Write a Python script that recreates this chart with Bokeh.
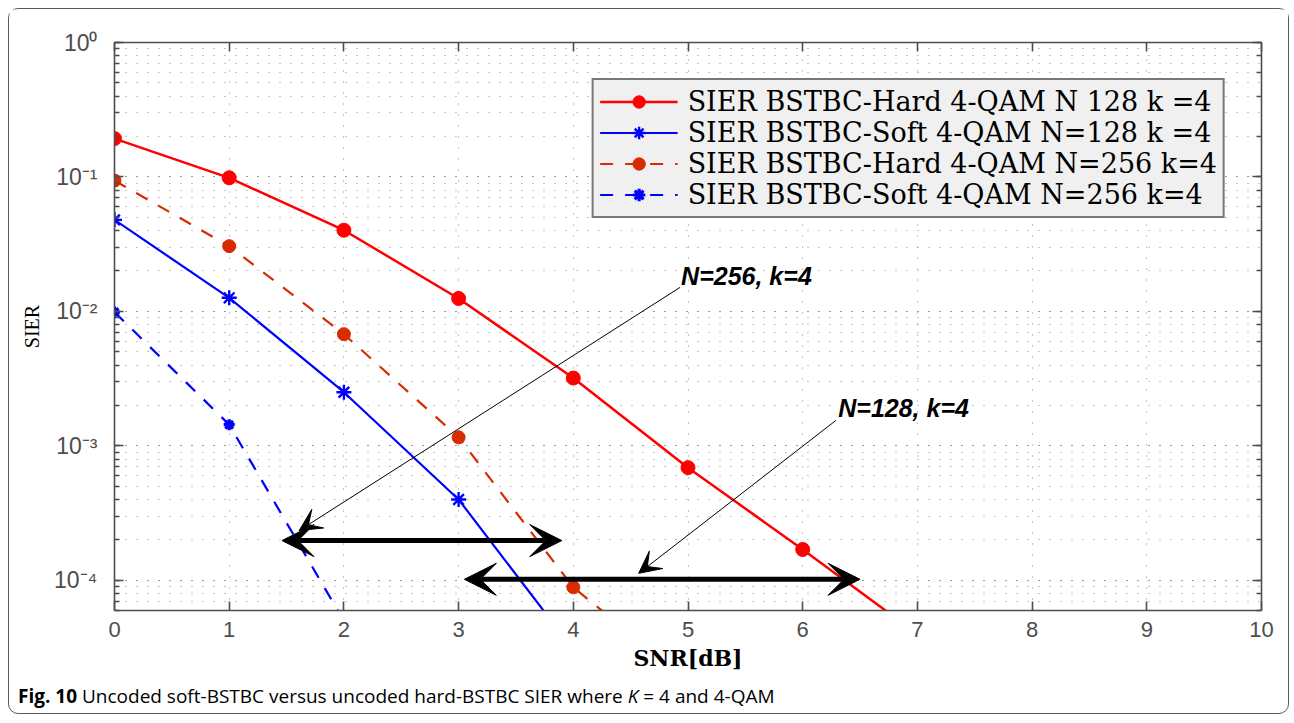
from bokeh.plotting import figure
from bokeh.layouts import column
from bokeh.models import (LogAxis, LinearAxis, Range1d, Arrow, VeeHead, Label, Div,
                          CustomJSTickFormatter, FixedTicker, Legend, LegendItem)
from bokeh.embed import file_html
from bokeh.resources import INLINE

# ---------------- data ----------------
snr_hard128 = [0, 1, 2, 3, 4, 5, 6, 7]
sier_hard128 = [0.193, 0.0986, 0.0402, 0.0125, 0.0032, 6.9e-4, 1.7e-4, 4.0e-5]

snr_soft128 = [0, 1, 2, 3, 4]
sier_soft128 = [0.048, 0.01264, 0.00251, 4.0e-4, 3.07e-5]

snr_hard256 = [0, 1, 2, 3, 4, 5]
sier_hard256 = [0.094, 0.0306, 0.00678, 0.00116, 8.9e-5, 1.8e-5]

snr_soft256 = [0, 1, 2]
sier_soft256 = [0.0099, 0.00144, 5.0e-5]

labels = ["SIER BSTBC-Hard 4-QAM N 128 k =4",
          "SIER BSTBC-Soft 4-QAM N=128 k =4",
          "SIER BSTBC-Hard 4-QAM N=256 k=4",
          "SIER BSTBC-Soft 4-QAM N=256 k=4"]

x_ticks = list(range(0, 11))

# double arrows (x start, x end, y) and pointer arrows (text, tx, ty, x0, y0, x1, y1)
span256 = (1.46, 3.90, 1.98e-4)
span128 = (3.05, 6.50, 1.02e-4)
note256 = ("N=256, k=4", 4.94, 0.0185, 4.93, 0.0151, 1.61, 2.35e-4)
note128 = ("N=128, k=4", 6.31, 1.93e-3, 6.29, 1.55e-3, 4.57, 1.13e-4)

caption_bold = "Fig. 10"
caption_pre = "Uncoded soft-BSTBC versus uncoded hard-BSTBC SIER where"
caption_var = "K"
caption_post = "= 4 and 4-QAM"

# ---------------- figure ----------------
p = figure(width=1279, height=672, y_axis_type="log",
           x_range=Range1d(0, 10), y_range=Range1d(5.98e-5, 1.0),
           output_backend="svg", toolbar_location=None,
           min_border_left=105, min_border_right=27, min_border_top=33, min_border_bottom=71,
           background_fill_color="white", border_fill_color="white", margin=(0, 0, 0, 0))
p.outline_line_color = None

AX = "#4d4d4d"
sup = CustomJSTickFormatter(code="""
const m = {"-":"\u207b","0":"\u2070","1":"\u00b9","2":"\u00b2","3":"\u00b3","4":"\u2074",
           "5":"\u2075","6":"\u2076","7":"\u2077","8":"\u2078","9":"\u2079"};
const e = Math.round(Math.log10(tick));
return "10" + String(e).split("").map(c => m[c]).join("");
""")
blank = CustomJSTickFormatter(code="return '';")

def style_axis(ax, minor=True, size="22px"):
    ax.axis_line_color = AX
    ax.axis_line_width = 1.6
    ax.major_tick_line_color = AX
    ax.major_tick_line_width = 1.6
    ax.major_tick_in = 9
    ax.major_tick_out = 0
    if minor:
        ax.minor_tick_line_color = AX
        ax.minor_tick_line_width = 1.4
        ax.minor_tick_in = 5
        ax.minor_tick_out = 0
    else:
        ax.minor_tick_line_color = None
    ax.major_label_text_font = "Liberation Sans"
    ax.major_label_text_font_size = size
    ax.major_label_text_color = AX

xa = p.xaxis[0]
style_axis(xa, minor=False)
xa.ticker = FixedTicker(ticks=x_ticks)
xa.major_label_standoff = 11
xa.axis_label = "SNR[dB]"
xa.axis_label_text_font = "DejaVu Serif"
xa.axis_label_text_font_style = "bold"
xa.axis_label_text_font_size = "22px"
xa.axis_label_text_color = "black"
xa.axis_label_standoff = 5

ya = p.yaxis[0]
style_axis(ya, size="23px")
ya.formatter = sup
ya.major_label_standoff = 17
ya.axis_label = "SIER"
ya.axis_label_text_font = "Liberation Serif"
ya.axis_label_text_font_style = "normal"
ya.axis_label_text_font_size = "20px"
ya.axis_label_text_color = "black"
ya.axis_label_standoff = 8

top = LinearAxis(ticker=FixedTicker(ticks=x_ticks), formatter=blank)
style_axis(top, minor=False)
p.add_layout(top, "above")
right = LogAxis(formatter=blank)
style_axis(right)
p.add_layout(right, "right")

GRID = "#8c8c8c"
for g in (p.xgrid[0], p.ygrid[0]):
    g.grid_line_color = GRID
    g.grid_line_dash = "1 10"
    g.grid_line_width = 1
p.xgrid[0].ticker = FixedTicker(ticks=x_ticks)
p.ygrid[0].minor_grid_line_color = GRID
p.ygrid[0].minor_grid_line_dash = "1 10"
p.ygrid[0].minor_grid_line_width = 1

# ---------------- series ----------------
RED = "#ff0000"
BLUE = "#0000ff"
ORG = "#d92b00"

l1 = p.line(snr_hard128, sier_hard128, line_color=RED, line_width=2.5)
m1 = p.scatter(snr_hard128, sier_hard128, marker="circle", size=14, fill_color=RED, line_color=RED)

l2 = p.line(snr_soft128, sier_soft128, line_color=BLUE, line_width=2.2)
m2 = p.scatter(snr_soft128, sier_soft128, marker="asterisk", size=15, line_color=BLUE, line_width=2.4)

l3 = p.line(snr_hard256, sier_hard256, line_color=ORG, line_width=2.2, line_dash="13 12")
m3 = p.scatter(snr_hard256, sier_hard256, marker="circle", size=13, fill_color=ORG, line_color=ORG)

l4 = p.line(snr_soft256, sier_soft256, line_color=BLUE, line_width=2.2, line_dash="13 12")
m4 = p.scatter(snr_soft256, sier_soft256, marker="asterisk", size=11, line_color=BLUE, line_width=3.2)

legend = Legend(items=[LegendItem(label=labels[0], renderers=[l1, m1]),
                       LegendItem(label=labels[1], renderers=[l2, m2]),
                       LegendItem(label=labels[2], renderers=[l3, m3]),
                       LegendItem(label=labels[3], renderers=[l4, m4])],
                location="top_right", margin=36, padding=6, spacing=0,
                glyph_width=78, glyph_height=31, label_height=31, label_standoff=10,
                label_text_font="DejaVu Serif", label_text_font_size="27px",
                label_text_color="black",
                background_fill_color="#f0f0f0", background_fill_alpha=1.0,
                border_line_color="black", border_line_width=2)
p.add_layout(legend, "center")

# ---------------- annotations ----------------
for (xs, xe, yv) in (span256, span128):
    p.add_layout(Arrow(x_start=xs, y_start=yv, x_end=xe, y_end=yv,
                       line_color="black", line_width=5,
                       start=VeeHead(size=32, fill_color="black", line_color="black"),
                       end=VeeHead(size=32, fill_color="black", line_color="black")))

for (txt, tx, ty, xs, ys, xe, ye) in (note256, note128):
    p.add_layout(Arrow(x_start=xs, y_start=ys, x_end=xe, y_end=ye,
                       line_color="black", line_width=1,
                       end=VeeHead(size=22, fill_color="black", line_color="black")))
    p.add_layout(Label(x=tx, y=ty, text=txt, text_font="Liberation Sans",
                       text_font_style="bold italic", text_font_size="25px",
                       text_color="black", text_baseline="middle", text_align="left"))

# ---------------- caption + outer frame ----------------
cap = Div(text=f"<b>{caption_bold}</b> {caption_pre} <i>{caption_var}</i> {caption_post}",
          width=1279, height=32, margin=(0, 0, 0, 0),
          styles={"font-family": "Open Sans", "font-size": "19px", "color": "black",
                  "padding-left": "9px", "padding-top": "2px"})

page = column(p, cap, margin=(0, 0, 0, 0),
              styles={"border": "1.5px solid #5a5a5a", "border-radius": "10px",
                      "margin": "8px", "background-color": "white"})

open("out.html", "w").write(file_html(page, INLINE))
